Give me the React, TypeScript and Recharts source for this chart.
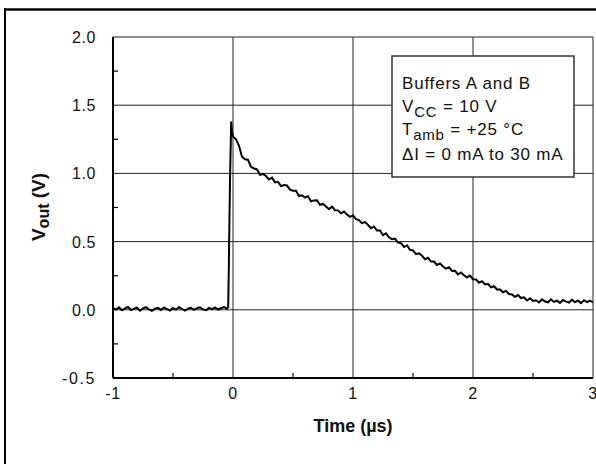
import { LineChart, Line, XAxis, YAxis, CartesianGrid } from "recharts";

// scope trace, [time (µs), Vout (V)]
const BASELINE: [number, number][] = [
  [-1.0, 0.012], [-0.975, 0.002], [-0.95, 0.018], [-0.925, -0.004], [-0.9, 0.01],
  [-0.875, 0.02], [-0.85, -0.002], [-0.825, 0.008], [-0.8, 0.016], [-0.775, -0.006],
  [-0.75, 0.01], [-0.725, 0.019], [-0.7, 0.003], [-0.675, -0.008], [-0.65, 0.009],
  [-0.625, 0.014], [-0.6, -0.001], [-0.575, 0.017], [-0.55, 0.005], [-0.525, -0.005],
  [-0.5, 0.013], [-0.475, 0.001], [-0.45, 0.02], [-0.425, 0.006], [-0.4, -0.006],
  [-0.375, 0.009], [-0.35, 0.015], [-0.325, 0.0], [-0.3, 0.012], [-0.275, 0.018],
  [-0.25, 0.003], [-0.225, -0.003], [-0.2, 0.014], [-0.175, 0.005], [-0.15, 0.017],
  [-0.125, 0.002], [-0.1, 0.011], [-0.075, 0.02], [-0.05, 0.008],
];

const EDGE: [number, number][] = [
  [-0.04, 0.02], [-0.035, 0.3], [-0.025, 0.95], [-0.015, 1.38], [-0.008, 1.3], [0.0, 1.27],
];

const DECAY: [number, number][] = [
  [0.025, 1.25], [0.05, 1.202], [0.075, 1.122], [0.1, 1.103], [0.125, 1.1],
  [0.15, 1.048], [0.175, 1.036], [0.2, 1.029], [0.225, 0.99], [0.25, 0.996],
  [0.275, 0.981], [0.3, 0.955], [0.325, 0.969], [0.35, 0.934], [0.375, 0.938],
  [0.4, 0.907], [0.425, 0.914], [0.45, 0.911], [0.475, 0.881], [0.5, 0.873],
  [0.525, 0.873], [0.55, 0.834], [0.575, 0.84], [0.6, 0.823], [0.625, 0.832],
  [0.65, 0.796], [0.675, 0.802], [0.7, 0.803], [0.725, 0.77], [0.75, 0.776],
  [0.775, 0.757], [0.8, 0.738], [0.825, 0.756], [0.85, 0.73], [0.875, 0.729],
  [0.9, 0.707], [0.925, 0.72], [0.95, 0.698], [0.975, 0.681], [1.0, 0.692],
  [1.025, 0.664], [1.05, 0.658], [1.075, 0.634], [1.1, 0.644], [1.125, 0.622],
  [1.15, 0.598], [1.175, 0.61], [1.2, 0.581], [1.225, 0.582], [1.25, 0.547],
  [1.275, 0.561], [1.3, 0.532], [1.325, 0.517], [1.35, 0.522], [1.375, 0.493],
  [1.4, 0.489], [1.425, 0.46], [1.45, 0.473], [1.475, 0.44], [1.5, 0.436],
  [1.525, 0.408], [1.55, 0.414], [1.575, 0.396], [1.6, 0.371], [1.625, 0.381],
  [1.65, 0.354], [1.675, 0.354], [1.7, 0.329], [1.725, 0.34], [1.75, 0.317],
  [1.775, 0.302], [1.8, 0.312], [1.825, 0.285], [1.85, 0.286], [1.875, 0.26],
  [1.9, 0.274], [1.925, 0.253], [1.95, 0.236], [1.975, 0.251], [2.0, 0.224],
  [2.025, 0.223], [2.05, 0.199], [2.075, 0.21], [2.1, 0.186], [2.125, 0.19],
  [2.15, 0.165], [2.175, 0.173], [2.2, 0.149], [2.225, 0.149], [2.25, 0.129],
  [2.275, 0.139], [2.3, 0.116], [2.325, 0.112], [2.35, 0.095], [2.375, 0.108],
  [2.4, 0.086], [2.425, 0.091], [2.45, 0.068], [2.475, 0.085], [2.5, 0.065],
  [2.525, 0.07], [2.55, 0.054], [2.575, 0.077], [2.6, 0.061], [2.625, 0.055],
  [2.65, 0.077], [2.675, 0.058], [2.7, 0.067], [2.725, 0.051], [2.75, 0.072],
  [2.775, 0.06], [2.8, 0.053], [2.825, 0.073], [2.85, 0.056], [2.875, 0.067],
  [2.9, 0.049], [2.925, 0.07], [2.95, 0.057], [2.975, 0.068], [3.0, 0.054],
];

const X_MAJOR = [-1, 0, 1, 2, 3];
const X_MINOR = [-0.5, 0.5, 1.5, 2.5];
const Y_MAJOR = [-0.5, 0, 0.5, 1, 1.5, 2];
const Y_MINOR = [-0.25, 0.25, 0.75, 1.25, 1.75];

const NOTE_LINES = ["Buffers A and B", "= 10 V", "= +25 °C", "\u0394I = 0 mA to 30 mA"];

const FONT = "'Liberation Sans', Arial, Helvetica, sans-serif";

const data = [...BASELINE, ...EDGE, ...DECAY].map(([t, v]) => ({ t, v }));

const XTick = (props: any) => {
  const { x, y, payload } = props;
  if (X_MINOR.includes(payload.value)) {
    return <line x1={x} x2={x} y1={y} y2={y - 5} stroke="#000" strokeWidth={1.2} />;
  }
  return (
    <text
      x={x}
      y={y + 21}
      textAnchor="middle"
      fontSize={16}
      fontFamily={FONT}
      letterSpacing={0.6}
      fill="#111"
    >
      {String(payload.value)}
    </text>
  );
};

const YTick = (props: any) => {
  const { x, y, payload } = props;
  if (Y_MINOR.includes(payload.value)) {
    return <line x1={x} x2={x + 5} y1={y} y2={y} stroke="#000" strokeWidth={1.2} />;
  }
  const label = payload.value.toFixed(1);
  return (
    <text
      x={x - 17}
      y={y + 6}
      textAnchor="end"
      fontSize={16}
      fontFamily={FONT}
      letterSpacing={label.startsWith("-") ? 1.6 : 0.6}
      fill="#111"
    >
      {label}
    </text>
  );
};

export default function App() {
  return (
    <div style={{ position: "absolute", left: 0, top: 0, width: 596, height: 464, background: "#fff", overflow: "hidden" }}>
      <LineChart
        width={596}
        height={464}
        data={data}
        margin={{ top: 37, right: 3, bottom: 56, left: 73 }}
      >
        <CartesianGrid
          stroke="#222"
          strokeWidth={1}
          horizontalValues={[0, 0.5, 1, 1.5, 2]}
          verticalValues={[0, 1, 2, 3]}
        />
        <XAxis
          dataKey="t"
          type="number"
          domain={[-1, 3]}
          ticks={[...X_MAJOR, ...X_MINOR].sort((a, b) => a - b)}
          interval={0}
          tickLine={false}
          tickSize={0}
          tickMargin={0}
          height={30}
          axisLine={{ stroke: "#000", strokeWidth: 2 }}
          tick={<XTick />}
          allowDataOverflow
        />
        <YAxis
          type="number"
          domain={[-0.5, 2]}
          ticks={[...Y_MAJOR, ...Y_MINOR].sort((a, b) => a - b)}
          interval={0}
          tickLine={false}
          tickSize={0}
          tickMargin={0}
          width={40}
          axisLine={{ stroke: "#000", strokeWidth: 2 }}
          tick={<YTick />}
          allowDataOverflow
        />
        <Line
          dataKey="v"
          type="linear"
          stroke="#000"
          strokeWidth={2}
          strokeLinejoin="miter"
          dot={false}
          isAnimationActive={false}
        />
      </LineChart>
      <svg
        width={596}
        height={464}
        style={{ position: "absolute", left: 0, top: 0, pointerEvents: "none" }}
        fontFamily={FONT}
      >
        <line x1={5} x2={5} y1={8} y2={464} stroke="#000" strokeWidth={2} />
        <line x1={4} x2={596} y1={9.5} y2={9.5} stroke="#000" strokeWidth={2.5} />

        <rect x={392} y={56} width={182} height={121} fill="#fff" stroke="#333" strokeWidth={1.5} />
        <g fontSize={17} fill="#111" letterSpacing={0.8}>
          <text x={402} y={89}>{NOTE_LINES[0]}</text>
          <text x={402} y={112}>
            V<tspan fontSize={15} dy={5}>CC</tspan>
            <tspan dy={-5}> {NOTE_LINES[1]}</tspan>
          </text>
          <text x={402} y={135}>
            T<tspan fontSize={15} dy={5}>amb</tspan>
            <tspan dy={-5}> {NOTE_LINES[2]}</tspan>
          </text>
          <text x={402} y={160}>{NOTE_LINES[3]}</text>
        </g>

        <text x={353} y={432} textAnchor="middle" fontSize={18} fontWeight="bold" fill="#111">
          Time (µs)
        </text>
        <text
          transform="translate(45 207) rotate(-90)"
          textAnchor="middle"
          fontSize={19}
          fontWeight="bold"
          fill="#111"
        >
          V<tspan fontSize={16} dy={4}>out</tspan>
          <tspan dy={-4}> (V)</tspan>
        </text>
      </svg>
    </div>
  );
}
